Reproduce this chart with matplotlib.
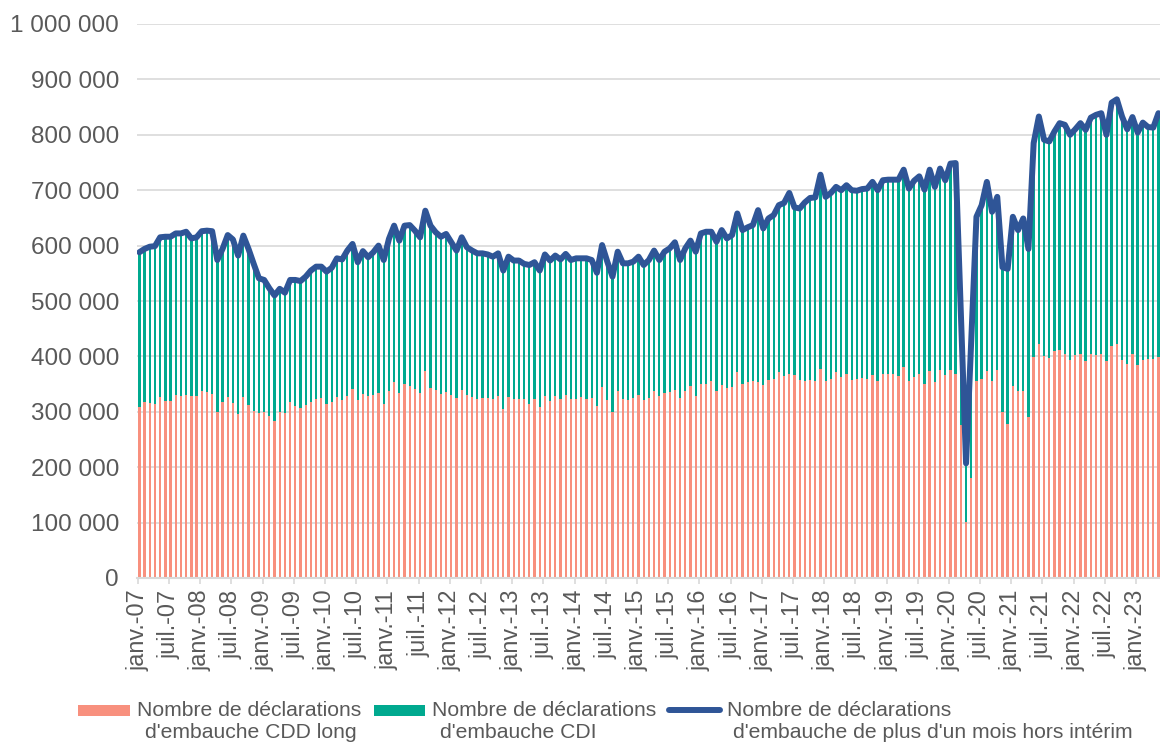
import matplotlib
matplotlib.use("Agg")
import matplotlib.pyplot as plt
from matplotlib.patches import Rectangle
from matplotlib.lines import Line2D
import numpy as np

plt.rcParams['font.family'] = ['Liberation Sans', 'DejaVu Sans']

# Months Jan 2007 .. May 2023
month_abbr = ["janv.", "févr.", "mars", "avr.", "mai", "juin",
              "juil.", "août", "sept.", "oct.", "nov.", "déc."]
months = [f"{month_abbr[m]}-{y:02d}" for y in range(7, 24) for m in range(12)][:197]

# values in thousands
cdd_long = [309, 318, 316, 314, 326, 319, 320, 331, 329, 330, 328, 328, 338, 335, 333, 299, 317, 326, 315, 296,
            326, 313, 302, 298, 299, 292, 284, 300, 298, 317, 310, 307, 313, 317, 323, 325, 314, 317, 327, 322,
            328, 342, 321, 332, 328, 330, 334, 314, 338, 354, 334, 351, 346, 341, 334, 374, 343, 339, 333, 336,
            331, 325, 340, 331, 326, 323, 325, 325, 323, 329, 305, 327, 323, 323, 323, 314, 323, 308, 328, 320,
            328, 323, 331, 324, 324, 326, 323, 325, 311, 345, 322, 299, 337, 323, 322, 325, 330, 321, 325, 337,
            328, 334, 335, 340, 325, 337, 346, 329, 351, 351, 355, 337, 349, 343, 344, 371, 351, 354, 356, 354,
            348, 358, 359, 371, 364, 369, 366, 357, 356, 358, 355, 378, 355, 359, 372, 362, 369, 357, 359, 361,
            360, 366, 355, 369, 368, 368, 364, 380, 355, 363, 369, 351, 373, 353, 375, 366, 376, 369, 276, 101,
            180, 355, 360, 373, 355, 375, 299, 278, 346, 337, 337, 290, 399, 423, 401, 397, 410, 412, 404, 393,
            402, 405, 392, 404, 402, 405, 391, 418, 422, 393, 386, 404, 384, 393, 395, 396, 399]

cdi = [279, 276, 282, 285, 289, 297, 296, 291, 293, 295, 285, 287, 288, 292, 293, 275, 277, 293, 296, 286,
       292, 281, 265, 243, 239, 231, 226, 222, 217, 221, 228, 229, 231, 238, 239, 237, 239, 243, 250, 253,
       263, 261, 249, 258, 251, 258, 266, 260, 274, 282, 275, 285, 291, 286, 281, 289, 293, 285, 283, 285,
       275, 266, 275, 266, 265, 263, 261, 259, 257, 257, 250, 253, 250, 250, 244, 251, 247, 247, 256, 253,
       254, 252, 254, 250, 253, 251, 254, 249, 240, 256, 249, 245, 252, 245, 246, 246, 250, 244, 249, 254,
       246, 255, 260, 266, 249, 258, 263, 260, 271, 274, 270, 270, 279, 270, 275, 287, 277, 279, 281, 310,
       283, 291, 296, 302, 313, 326, 303, 310, 322, 328, 332, 350, 333, 336, 334, 338, 340, 343, 340, 341,
       343, 349, 345, 349, 351, 351, 355, 357, 348, 354, 356, 350, 364, 353, 364, 352, 372, 380, 204, 106,
       250, 297, 313, 342, 306, 313, 262, 280, 306, 291, 312, 304, 386, 410, 390, 391, 396, 409, 414, 407,
       408, 416, 417, 427, 434, 434, 409, 440, 442, 440, 424, 428, 420, 429, 419, 417, 440]

total = [588, 594, 598, 599, 615, 616, 616, 622, 622, 625, 613, 615, 626, 627, 626, 574, 594, 619, 611, 582,
         618, 594, 567, 541, 538, 523, 510, 522, 515, 538, 538, 536, 544, 555, 562, 562, 553, 560, 577, 575,
         591, 603, 570, 590, 579, 588, 600, 574, 612, 636, 609, 636, 637, 627, 615, 663, 636, 624, 616, 621,
         606, 591, 615, 597, 591, 586, 586, 584, 580, 586, 555, 580, 573, 573, 567, 565, 570, 555, 584, 573,
         582, 575, 585, 574, 577, 577, 577, 574, 551, 601, 571, 544, 589, 568, 568, 571, 580, 565, 574, 591,
         574, 589, 595, 606, 574, 595, 609, 589, 622, 625, 625, 607, 628, 613, 619, 658, 628, 633, 637, 664,
         631, 649, 655, 673, 677, 695, 669, 667, 678, 686, 687, 728, 688, 695, 706, 700, 709, 700, 699, 702,
         703, 715, 700, 718, 719, 719, 719, 737, 703, 717, 725, 701, 737, 706, 739, 718, 748, 749, 480, 207,
         430, 652, 673, 715, 661, 688, 561, 558, 652, 628, 649, 594, 785, 833, 791, 788, 806, 821, 818, 800,
         810, 821, 809, 831, 836, 839, 800, 858, 864, 833, 810, 832, 804, 822, 814, 813, 839]

tick_labels = ["janv.-07", "juil.-07", "janv.-08", "juil.-08", "janv.-09", "juil.-09", "janv.-10", "juil.-10",
               "janv.-11", "juil.-11", "janv.-12", "juil.-12", "janv.-13", "juil.-13", "janv.-14", "juil.-14",
               "janv.-15", "juil.-15", "janv.-16", "juil.-16", "janv.-17", "juil.-17", "janv.-18", "juil.-18",
               "janv.-19", "juil.-19", "janv.-20", "juil.-20", "janv.-21", "juil.-21", "janv.-22", "juil.-22",
               "janv.-23"]

series_names = ["Nombre de déclarations\nd'embauche CDD long",
                "Nombre de déclarations\nd'embauche CDI",
                "Nombre de déclarations\nd'embauche de plus d'un mois hors intérim"]

PINK = "#F8907E"
GREEN = "#00A98F"
BLUE = "#2F5597"
TXT = "#595959"
GRID = "#D9D9D9"

W, H = 1160, 744
fig = plt.figure(figsize=(W / 100, H / 100), dpi=100)
ax = fig.add_axes([137 / W, (H - 578) / H, (W - 137) / W, 554 / H])

x = np.arange(len(months))
ax.bar(x, cdd_long, width=0.45, color=PINK, zorder=2, linewidth=0)
ax.bar(x, cdi, width=0.45, bottom=cdd_long, color=GREEN, zorder=2, linewidth=0)
ax.plot(x, total, color=BLUE, lw=4.3, zorder=3, solid_joinstyle='round', solid_capstyle='round')

ax.set_xlim(-0.45, 196.3)
ax.set_ylim(0, 1000)
yt = np.arange(0, 1001, 100)
ax.set_yticks(yt)
ax.set_yticklabels([f"{int(v) * 1000:,}".replace(",", " ") for v in yt])
ax.yaxis.grid(True, color=GRID, lw=1.2, zorder=0)
ax.set_axisbelow(True)

tpos = [months.index(t) - 0.3 for t in tick_labels]
ax.set_xticks(tpos)
ax.set_xticklabels(tick_labels, rotation=90, ha='center', va='top')

for s in ["top", "right", "left"]:
    ax.spines[s].set_visible(False)
ax.spines["bottom"].set_color(GRID)
ax.spines["bottom"].set_linewidth(1.5)
ax.spines["bottom"].set_zorder(4)

ax.tick_params(axis='y', length=0, pad=13, labelsize=17.5, labelcolor=TXT)
ax.tick_params(axis='x', length=4.5, width=1.2, color=GRID, pad=4, labelsize=16.8, labelcolor=TXT)

# Legend (manual, matching the original layout)
def fx(px):
    return px / W

def fy(py):
    return 1 - py / H

fig.patches.append(Rectangle((fx(78), fy(716)), 52 / W, 11 / H, transform=fig.transFigure,
                             facecolor=PINK, edgecolor='none'))
fig.patches.append(Rectangle((fx(374), fy(716)), 51 / W, 11 / H, transform=fig.transFigure,
                             facecolor=GREEN, edgecolor='none'))
fig.lines.append(Line2D([fx(669), fx(720)], [fy(710), fy(710)], transform=fig.transFigure,
                        color=BLUE, lw=4.3, solid_capstyle='round'))

text_x = [(137, 145), (432, 440), (727, 733)]
for name, (x1, x2) in zip(series_names, text_x):
    l1, l2 = name.split("\n")
    fig.text(fx(x1), fy(710), l1, ha='left', va='center', fontsize=15.2, color=TXT)
    fig.text(fx(x2), fy(733), l2, ha='left', va='center', fontsize=15.2, color=TXT)

fig.savefig("out.png", dpi=100)
